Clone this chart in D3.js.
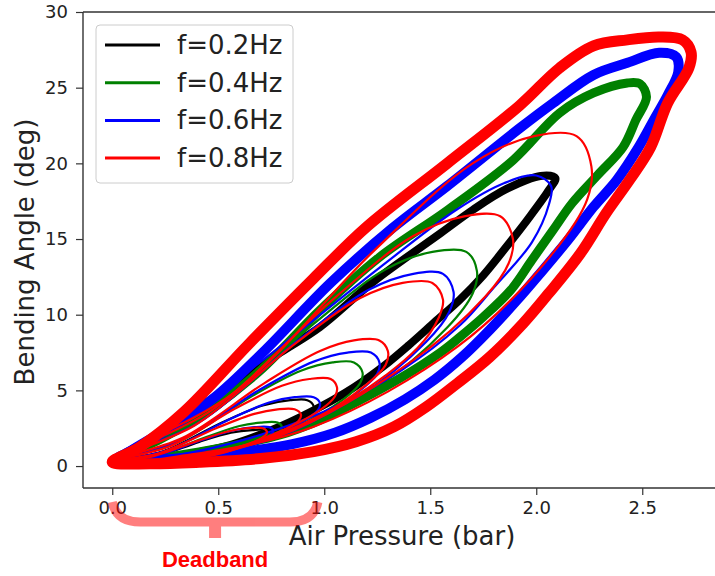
<!DOCTYPE html>
<html>
<head>
<meta charset="utf-8">
<script src="https://cdn.jsdelivr.net/npm/d3@7/dist/d3.min.js"></script>
<style>
  body { margin: 0; background: #fff; }
  text { font-family: "DejaVu Sans", sans-serif; }
</style>
</head>
<body>
<svg id="chart" width="715" height="576"></svg>
<script>
// legend labels, one per drive frequency
const frequencies = ['f=0.2Hz', 'f=0.4Hz', 'f=0.6Hz', 'f=0.8Hz'];
const xTicks = [0, 0.5, 1.0, 1.5, 2.0, 2.5];
const yTicks = [0, 5, 10, 15, 20, 25, 30];
const deadband = [0.0, 0.97]; // bar

// hysteresis loops [pressure (bar), angle (deg)], first loop of each list = largest amplitude
const loops02 = [
  [[0,0.26],[0.13,1.32],[0.32,3.04],[0.56,5.29],[0.79,7.47],[0.98,9.19],[1.23,12.16],[1.55,15.4],[1.70,16.92],[1.86,18.31],[2.02,19.17],[2.09,19.03],[2.06,18.24],[1.96,16.3],[1.86,14.5],[1.75,12.6],[1.64,11.0],[1.52,9.5],[1.40,8.0],[1.28,6.6],[1.14,5.2],[0.98,3.9],[0.79,2.6],[0.56,1.4],[0.32,0.7],[0.13,0.4]],
  [[0,0.3],[0.24,0.97],[0.52,2.9],[0.71,4.0],[0.84,4.35],[0.92,4.35],[0.95,3.95],[0.94,3.5],[0.87,2.8],[0.68,1.6],[0.4,0.53],[0.14,0.15]],
  [[0,0.3],[0.19,0.55],[0.41,1.6],[0.56,2.2],[0.66,2.38],[0.73,2.38],[0.75,2.15],[0.74,1.9],[0.69,1.55],[0.54,0.85],[0.32,0.3],[0.11,0.1]]
];
const loops04 = [
  [[0,0.26],[0.22,1.72],[0.46,3.7],[0.70,6.34],[0.98,10.31],[1.26,13.8],[1.58,16.9],[1.89,20.2],[2.11,23.33],[2.27,24.65],[2.43,25.31],[2.49,25.25],[2.52,24.39],[2.47,22.87],[2.41,21.08],[2.29,19.23],[2.17,17.38],[2.08,15.6],[1.98,13.62],[1.88,11.63],[1.75,9.85],[1.64,8.53],[1.55,7.53],[1.36,5.82],[1.17,4.36],[0.98,3.04],[0.79,2.05],[0.41,0.93],[0.18,0.46]],
  [[0,0.3],[0.43,3.1],[0.95,9.4],[1.29,13.0],[1.51,14.15],[1.67,14.15],[1.72,12.9],[1.70,11.4],[1.58,9.15],[1.24,5.15],[0.72,1.7],[0.26,0.4]],
  [[0,0.3],[0.30,1.5],[0.65,4.55],[0.89,6.3],[1.04,6.85],[1.14,6.85],[1.18,6.2],[1.17,5.5],[1.09,4.4],[0.85,2.5],[0.5,0.83],[0.18,0.2]],
  [[0,0.3],[0.2,0.65],[0.44,1.9],[0.6,2.65],[0.7,2.87],[0.78,2.87],[0.8,2.6],[0.79,2.3],[0.74,1.86],[0.58,1.05],[0.34,0.35],[0.12,0.1]]
];
const loops06 = [
  [[0,0.26],[0.13,1.32],[0.27,2.51],[0.48,4.5],[0.71,7.5],[1.03,12.1],[1.32,15.7],[1.58,18.5],[1.92,22.3],[2.08,23.99],[2.27,25.84],[2.43,26.64],[2.58,27.3],[2.66,27.03],[2.67,26.04],[2.62,24.5],[2.56,23.0],[2.48,21.0],[2.38,18.9],[2.27,17.12],[2.15,14.94],[2.02,12.76],[1.91,10.97],[1.78,8.99],[1.65,7.2],[1.52,5.7],[1.38,4.4],[1.22,3.2],[1.05,2.2],[0.85,1.45],[0.6,0.9],[0.35,0.55],[0.15,0.35]],
  [[0,0.3],[0.52,5.0],[1.26,13.1],[1.62,16.9],[1.85,18.7],[2.0,19.2],[2.07,18.5],[2.06,17.3],[1.98,14.8],[1.80,11.8],[1.64,9.3],[1.36,6.3],[1.0,3.6],[0.56,1.5],[0.2,0.5]],
  [[0,0.3],[0.40,2.8],[0.89,8.45],[1.21,11.65],[1.42,12.7],[1.56,12.7],[1.61,11.5],[1.59,10.2],[1.48,8.2],[1.16,4.6],[0.68,1.5],[0.24,0.4]],
  [[0,0.3],[0.32,1.7],[0.69,5.0],[0.95,6.9],[1.11,7.5],[1.22,7.5],[1.26,6.85],[1.25,6.1],[1.16,4.9],[0.91,2.7],[0.53,0.9],[0.19,0.25]],
  [[0,0.3],[0.25,1.0],[0.54,3.0],[0.74,4.2],[0.86,4.55],[0.95,4.55],[0.98,4.15],[0.97,3.7],[0.9,2.95],[0.71,1.65],[0.41,0.55],[0.15,0.15]],
  [[0,0.3],[0.19,0.6],[0.42,1.7],[0.57,2.35],[0.67,2.57],[0.74,2.57],[0.76,2.35],[0.75,2.1],[0.7,1.66],[0.55,0.94],[0.32,0.3],[0.11,0.1]]
];
const loops08 = [
  [[0,0.26],[0.13,1.26],[0.34,3.6],[0.64,8.0],[0.95,12.4],[1.20,15.8],[1.58,20.0],[1.92,23.8],[2.11,26.3],[2.27,27.76],[2.43,28.16],[2.58,28.35],[2.69,28.16],[2.73,27.36],[2.72,26.3],[2.62,23.99],[2.54,21.08],[2.44,18.9],[2.33,16.72],[2.21,14.08],[2.06,11.43],[1.94,9.45],[1.78,7.2],[1.63,5.49],[1.48,3.9],[1.33,2.6],[1.15,1.6],[0.95,0.95],[0.7,0.5],[0.41,0.25],[0.18,0.15]],
  [[0,0.3],[0.57,4.8],[1.24,14.3],[1.70,20.0],[1.99,21.8],[2.19,21.8],[2.26,19.8],[2.24,17.6],[2.08,14.1],[1.63,7.9],[0.95,2.6],[0.34,0.7]],
  [[0,0.3],[0.47,3.7],[1.04,11.0],[1.42,15.2],[1.66,16.5],[1.83,16.5],[1.89,15.0],[1.87,13.4],[1.76,11.2],[1.40,6.8],[0.79,2.0],[0.28,0.5]],
  [[0,0.3],[0.39,2.7],[0.86,8.05],[1.17,11.1],[1.37,12.1],[1.51,12.1],[1.56,11.0],[1.54,9.8],[1.44,7.8],[1.12,4.4],[0.66,1.5],[0.23,0.4]],
  [[0,0.3],[0.33,1.85],[0.72,5.5],[0.98,7.6],[1.14,8.3],[1.26,8.3],[1.30,7.6],[1.29,6.7],[1.20,5.4],[0.94,3.0],[0.55,1.0],[0.2,0.3]],
  [[0,0.3],[0.27,1.3],[0.58,3.8],[0.80,5.3],[0.93,5.75],[1.03,5.75],[1.06,5.2],[1.05,4.6],[0.98,3.7],[0.76,2.1],[0.45,0.7],[0.16,0.2]],
  [[0,0.3],[0.22,0.85],[0.49,2.5],[0.67,3.45],[0.78,3.75],[0.86,3.75],[0.89,3.4],[0.88,3.0],[0.82,2.45],[0.64,1.4],[0.37,0.5],[0.13,0.2]],
  [[0,0.3],[0.18,0.6],[0.40,1.65],[0.55,2.3],[0.64,2.5],[0.71,2.5],[0.73,2.25],[0.72,2.0],[0.67,1.6],[0.53,0.9],[0.31,0.3],[0.11,0.1]]
];

const series = [loops02, loops04, loops06, loops08];
const colors = ['#000000', '#008000', '#0000ff', '#ff0000'];
const thickWidth = [8, 9, 10, 11];

const svg = d3.select('#chart');
const W = 715, H = 576;
const plot = { left: 83, top: 12, bottom: 488 };

const x = d3.scaleLinear().domain([-0.138, 2.9]).range([plot.left, plot.left + 3.038 * 212]);
const y = d3.scaleLinear().domain([-1.45, 30]).range([plot.bottom, plot.top]);

svg.append('rect').attr('width', W).attr('height', H).attr('fill', '#fff');

svg.append('defs').append('clipPath').attr('id', 'plotclip')
  .append('rect')
  .attr('x', plot.left).attr('y', plot.top)
  .attr('width', W - plot.left).attr('height', plot.bottom - plot.top);

const line = d3.line()
  .x(d => x(d[0]))
  .y(d => y(d[1]))
  .curve(d3.curveCatmullRomClosed.alpha(0.5));

const body = svg.append('g').attr('clip-path', 'url(#plotclip)');

series.forEach((loops, i) => {
  const g = body.append('g').attr('class', 'freq-' + i);
  g.selectAll('path')
    .data(loops)
    .enter()
    .append('path')
    .attr('d', d => line(d))
    .attr('fill', 'none')
    .attr('stroke', colors[i])
    .attr('stroke-width', (d, j) => j === 0 ? thickWidth[i] : 2.2)
    .attr('stroke-linejoin', 'round');
});

// axes
const xAxis = d3.axisBottom(x).tickValues(xTicks).tickFormat(d3.format('.1f')).tickSize(7).tickPadding(6);
const yAxis = d3.axisLeft(y).tickValues(yTicks).tickFormat(d3.format('d')).tickSize(7).tickPadding(8);

const gx = svg.append('g').attr('transform', `translate(0,${plot.bottom})`).call(xAxis);
const gy = svg.append('g').attr('transform', `translate(${plot.left},0)`).call(yAxis);

[gx, gy].forEach(g => {
  g.select('.domain').remove();
  g.selectAll('.tick line').attr('stroke', '#333').attr('stroke-width', 1.2);
  g.selectAll('.tick text').attr('fill', '#222').style('font-size', '18px');
});

// spines (right spine falls outside the visible area)
svg.append('line').attr('x1', plot.left).attr('x2', plot.left).attr('y1', plot.top).attr('y2', plot.bottom)
  .attr('stroke', '#333').attr('stroke-width', 1.4);
svg.append('line').attr('x1', plot.left).attr('x2', W).attr('y1', plot.top).attr('y2', plot.top)
  .attr('stroke', '#333').attr('stroke-width', 1.4);
svg.append('line').attr('x1', plot.left).attr('x2', W).attr('y1', plot.bottom).attr('y2', plot.bottom)
  .attr('stroke', '#333').attr('stroke-width', 1.4);

// axis titles
svg.append('text')
  .attr('x', 402).attr('y', 545)
  .attr('text-anchor', 'middle')
  .attr('fill', '#222')
  .style('font-size', '26px')
  .text('Air Pressure (bar)');

svg.append('text')
  .attr('transform', 'translate(34,252) rotate(-90)')
  .attr('text-anchor', 'middle')
  .attr('fill', '#222')
  .style('font-size', '26px')
  .text('Bending Angle (deg)');

// legend
const legend = svg.append('g');
legend.append('rect')
  .attr('x', 96).attr('y', 25).attr('width', 197).attr('height', 158)
  .attr('rx', 4)
  .attr('fill', '#fff').attr('fill-opacity', 0.8)
  .attr('stroke', '#ccc');
const items = legend.selectAll('g.item')
  .data(frequencies)
  .enter()
  .append('g')
  .attr('class', 'item')
  .attr('transform', (d, i) => `translate(0,${45 + i * 37.7})`);
items.append('line')
  .attr('x1', 105).attr('x2', 160)
  .attr('stroke', (d, i) => colors[i])
  .attr('stroke-width', 3);
items.append('text')
  .attr('x', 177).attr('y', 9)
  .attr('fill', '#222')
  .style('font-size', '26px')
  .text(d => d);

// deadband brace below the axis
const bx0 = x(deadband[0]), bx1 = x(deadband[1]);
const bmid = (bx0 + bx1) / 2;
const braceY = 522;
const brace = svg.append('g').attr('opacity', 0.5);
brace.append('path')
  .attr('d', `M${bx0},${braceY - 20} Q${bx0 + 4},${braceY} ${bx0 + 28},${braceY} L${bx1 - 28},${braceY} Q${bx1 - 4},${braceY} ${bx1},${braceY - 20}`)
  .attr('fill', 'none')
  .attr('stroke', '#ff0000')
  .attr('stroke-width', 9);
brace.append('rect')
  .attr('x', bmid - 6).attr('y', braceY + 4)
  .attr('width', 12).attr('height', 12)
  .attr('fill', '#ff0000');

svg.append('text')
  .attr('x', bmid).attr('y', 567)
  .attr('text-anchor', 'middle')
  .attr('fill', '#ff0000')
  .style('font-family', '"Liberation Sans", Arial, sans-serif')
  .style('font-weight', 'bold')
  .style('font-size', '22px')
  .text('Deadband');
</script>
</body>
</html>
